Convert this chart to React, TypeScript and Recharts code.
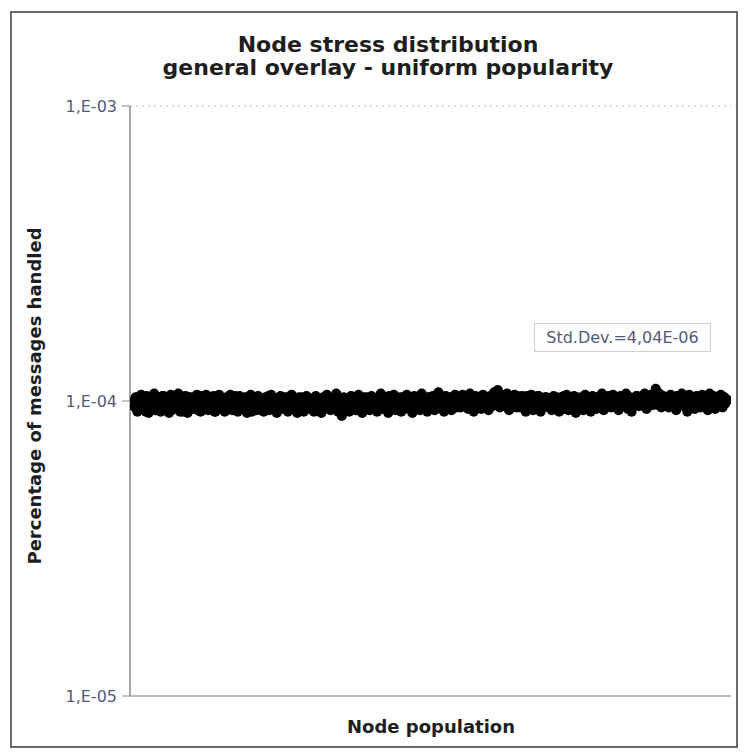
import { ScatterChart, Scatter, XAxis, YAxis, CartesianGrid } from "recharts";

// share of messages handled per node, in units of 1e-4, left to right across the node population
// even-numbered nodes
const stressEvenE4 = [
  0.96, 1.03, 0.92, 1.0, 1.05, 0.94, 0.98, 1.04, 0.91, 1.01, 0.95, 1.06, 0.93, 0.99, 1.03, 0.95,
  1.04, 0.93, 1.0, 0.91, 1.05, 0.97, 0.95, 1.02, 1.06, 0.92, 0.99, 0.96, 1.04, 0.91, 1.01, 1.03,
  0.94, 1.0, 1.05, 0.95, 0.92, 1.02, 0.97, 1.05, 0.93, 1.01, 0.96, 1.04, 0.92, 1.0, 1.05, 0.95,
  0.99, 0.92, 1.03, 0.96, 1.05, 0.93, 1.01, 0.97, 0.92, 1.04, 1.0, 0.95, 1.03, 0.91, 0.98, 1.05,
  0.95, 1.02, 0.93, 1.04, 0.96, 1.0, 0.92, 1.03, 0.98, 0.93, 1.05, 0.96, 1.01, 0.91, 0.99, 1.04,
  0.94, 1.03, 0.97, 0.92, 1.01, 1.05, 0.95, 0.99, 0.91, 1.03, 0.96, 1.0, 0.93, 1.04, 0.97, 0.94,
  1.02, 0.92, 1.04, 0.96, 1.0, 0.91, 1.03, 0.95, 1.05, 0.97, 0.93, 1.01, 0.96, 1.06, 0.92, 1.0,
  0.89, 1.03, 0.95, 0.99, 0.92, 1.04, 0.96, 1.01, 0.93, 1.05, 0.97, 0.91, 1.03, 0.95, 1.0, 0.93,
  1.04, 0.96, 1.01, 0.92, 0.99, 1.06, 0.94, 1.03, 0.97, 0.91, 1.02, 0.95, 1.05, 0.93, 1.0, 0.97,
  0.92, 1.03, 0.96, 1.05, 0.94, 1.0, 0.91, 1.04, 0.97, 1.01, 0.93, 1.06, 0.95, 0.99, 0.92, 1.03,
  0.97, 1.04, 0.93, 1.02, 1.07, 0.95, 1.0, 0.92, 1.04, 0.96, 1.03, 0.93, 0.99, 1.05, 0.95, 1.02,
  0.95, 1.05, 0.97, 1.03, 0.94, 1.06, 1.0, 0.92, 1.04, 0.97, 1.02, 0.94, 1.05, 0.96, 1.03, 0.93,
  1.04, 0.96, 1.07, 1.0, 1.09, 0.95, 1.05, 1.01, 0.97, 1.06, 0.93, 1.03, 0.98, 1.05, 0.95, 1.02,
  0.95, 1.04, 0.98, 0.92, 1.03, 0.97, 1.05, 0.93, 1.02, 0.96, 1.04, 0.92, 1.0, 0.95, 1.03, 0.97,
  1.02, 0.93, 1.04, 0.96, 1.01, 0.92, 1.03, 0.97, 0.94, 1.05, 0.93, 1.02, 0.96, 1.04, 0.91, 1.01,
  0.96, 1.03, 0.93, 1.05, 0.97, 1.02, 0.92, 1.04, 0.99, 0.94, 1.03, 0.96, 1.06, 0.93, 1.01, 0.97,
  1.03, 0.95, 1.05, 0.97, 1.02, 0.93, 1.04, 0.96, 1.0, 1.06, 0.94, 1.03, 0.92, 1.02, 0.97, 1.04,
  0.96, 1.03, 0.98, 1.06, 0.94, 1.04, 0.97, 1.05, 1.0, 1.1, 0.97, 1.06, 0.95, 1.04, 0.98, 1.03,
  0.95, 1.05, 0.97, 1.02, 0.93, 1.04, 0.98, 1.06, 0.96, 1.03, 0.92, 1.05, 0.98, 1.02, 0.94, 1.04,
  1.0, 0.95, 1.05, 0.97, 1.03, 0.93, 1.06, 0.98, 1.04, 0.94, 1.02, 0.97, 1.05, 0.95, 1.03, 1.0,
];

// odd-numbered nodes
const stressOddE4 = [
  1.01, 0.94, 0.99, 1.04, 0.96, 1.02, 0.92, 0.98, 1.03, 0.95, 1.0, 0.93, 1.02, 0.97, 0.92, 1.04,
  0.98, 1.02, 0.95, 1.0, 0.93, 1.03, 0.99, 0.94, 0.97, 1.04, 0.92, 1.01, 0.96, 1.03, 0.94, 0.99,
  1.02, 0.96, 0.93, 1.01, 1.04, 0.97, 0.94, 0.99, 1.03, 0.96, 1.01, 0.92, 0.98, 1.03, 0.95, 1.0,
  0.93, 1.01, 0.97, 1.03, 0.95, 0.99, 1.04, 0.93, 1.0, 0.96, 1.02, 0.94, 0.98, 1.03, 0.96, 0.92,
  1.01, 0.95, 0.99, 1.03, 0.93, 1.02, 0.97, 0.94, 1.04, 1.0, 0.96, 1.02, 0.94, 0.98, 1.03, 0.95,
  1.0, 0.96, 1.03, 0.98, 0.94, 0.97, 1.02, 0.93, 1.0, 0.95, 1.03, 0.92, 0.99, 0.96, 1.02, 1.01,
  0.95, 1.0, 0.97, 1.02, 0.93, 0.99, 0.96, 1.03, 0.94, 1.01, 0.98, 0.94, 1.03, 0.96, 1.0, 0.97,
  1.02, 0.94, 1.0, 0.96, 1.03, 0.95, 0.99, 0.93, 1.02, 0.97, 1.01, 0.95, 0.98, 1.03, 0.94, 1.01,
  0.97, 1.01, 0.94, 1.03, 0.96, 0.98, 1.02, 0.95, 1.0, 1.04, 0.96, 0.99, 0.94, 1.02, 0.97, 1.03,
  1.0, 0.96, 1.03, 0.97, 1.01, 0.94, 1.02, 0.97, 0.95, 0.99, 1.03, 0.96, 1.01, 0.94, 1.03, 0.98,
  1.03, 0.96, 1.01, 0.97, 0.99, 1.04, 0.95, 1.02, 0.97, 1.0, 0.94, 1.03, 0.98, 0.96, 1.01, 0.97,
  1.01, 0.97, 1.03, 0.95, 1.0, 0.98, 0.96, 1.03, 0.98, 1.01, 0.95, 1.04, 0.97, 1.01, 0.96, 1.03,
  0.98, 1.04, 0.99, 1.06, 1.02, 1.05, 0.98, 0.96, 1.04, 1.0, 1.03, 0.97, 1.02, 0.96, 1.04, 0.99,
  1.02, 0.97, 1.01, 1.04, 0.96, 1.01, 0.97, 1.03, 0.98, 1.04, 0.96, 1.01, 0.97, 1.03, 0.98, 1.02,
  0.97, 1.02, 0.98, 1.03, 0.95, 1.0, 0.97, 1.04, 1.01, 0.97, 1.02, 0.98, 1.0, 0.96, 1.03, 0.98,
  1.02, 0.97, 1.0, 0.98, 1.03, 0.95, 1.01, 0.97, 1.03, 1.01, 0.97, 1.02, 0.98, 1.03, 0.96, 1.04,
  0.98, 1.02, 0.97, 1.03, 0.96, 1.01, 0.98, 1.02, 0.96, 1.01, 1.03, 0.97, 1.02, 0.98, 1.04, 0.97,
  1.02, 0.98, 1.04, 0.97, 1.03, 0.99, 1.05, 0.97, 1.07, 1.03, 1.04, 0.98, 1.02, 0.97, 1.03, 0.99,
  1.02, 0.98, 1.03, 0.96, 1.04, 0.99, 1.02, 0.97, 1.03, 0.98, 1.01, 0.97, 1.03, 0.96, 1.02, 0.98,
  0.97, 1.03, 0.99, 1.02, 0.96, 1.04, 0.98, 1.01, 0.97, 1.03, 0.99, 1.02, 0.96, 1.03, 0.98, 1.01,
];

const yTicks = [1e-5, 1e-4, 1e-3];
const titleLines = ["Node stress distribution", "general overlay - uniform popularity"];
const stdDevLabel = "Std.Dev.=4,04E-06";

const data = [
  ...stressEvenE4.map((v, i) => ({ node: i * 2, share: v * 1e-4 })),
  ...stressOddE4.map((v, i) => ({ node: i * 2 + 1, share: v * 1e-4 })),
];

const FONT = '"DejaVu Sans", Verdana, sans-serif';
const TICK_COLOR = "#55597a";

const formatTick = (v: number) => `1,E-0${Math.round(-Math.log10(v))}`;

export default function App() {
  return (
    <div style={{ position: "relative", width: 733, height: 744, fontFamily: FONT }}>
      <div
        style={{
          position: "absolute",
          left: 2,
          top: 3,
          width: 724,
          height: 733,
          border: "2px solid #6a6a6a",
        }}
      />
      <div style={{ position: "absolute", left: 0, top: 0 }}>
        <ScatterChart width={733} height={744} margin={{ top: 98, right: 10, bottom: 36, left: 0 }}>
          <CartesianGrid
            vertical={false}
            horizontalValues={[1e-3]}
            stroke="#bdbdbd"
            strokeDasharray="2 4"
          />
          <XAxis
            type="number"
            dataKey="node"
            domain={[-4, 643]}
            allowDataOverflow
            tick={false}
            tickLine={false}
            height={20}
            axisLine={{ stroke: "#a8a8a8", strokeWidth: 1.5 }}
          />
          <YAxis
            type="number"
            dataKey="share"
            scale="log"
            domain={[1e-5, 1e-3]}
            ticks={yTicks}
            allowDataOverflow
            width={122}
            tickSize={8}
            tickMargin={5}
            tickFormatter={formatTick}
            tick={{ fill: TICK_COLOR, fontSize: 16, fontFamily: FONT }}
            tickLine={{ stroke: "#8a8a8a" }}
            axisLine={{ stroke: "#8a8a8a", strokeWidth: 1.5 }}
          />
          <Scatter
            data={data}
            isAnimationActive={false}
            shape={(p: any) => <circle cx={p.cx} cy={p.cy} r={5} fill="#000" />}
          />
        </ScatterChart>
      </div>
      <svg
        width={733}
        height={744}
        style={{ position: "absolute", left: 0, top: 0, pointerEvents: "none" }}
      >
        {titleLines.map((t, i) => (
          <text
            key={t}
            x={380}
            y={44 + i * 23}
            textAnchor="middle"
            fontFamily={FONT}
            fontWeight="bold"
            fontSize={22}
            fill="#1e1e1e"
          >
            {t}
          </text>
        ))}
        <text
          x={423}
          y={725}
          textAnchor="middle"
          fontFamily={FONT}
          fontWeight="bold"
          fontSize={18}
          fill="#1e1e1e"
        >
          Node population
        </text>
        <text
          transform="translate(33,388) rotate(-90)"
          textAnchor="middle"
          fontFamily={FONT}
          fontWeight="bold"
          fontSize={18}
          fill="#1e1e1e"
        >
          Percentage of messages handled
        </text>
      </svg>
      <div
        style={{
          position: "absolute",
          left: 526,
          top: 315,
          width: 175,
          height: 27,
          border: "1px solid #cfcfcf",
          color: TICK_COLOR,
          fontSize: 16,
          lineHeight: "27px",
          textAlign: "center",
          whiteSpace: "nowrap",
        }}
      >
        {stdDevLabel}
      </div>
    </div>
  );
}
